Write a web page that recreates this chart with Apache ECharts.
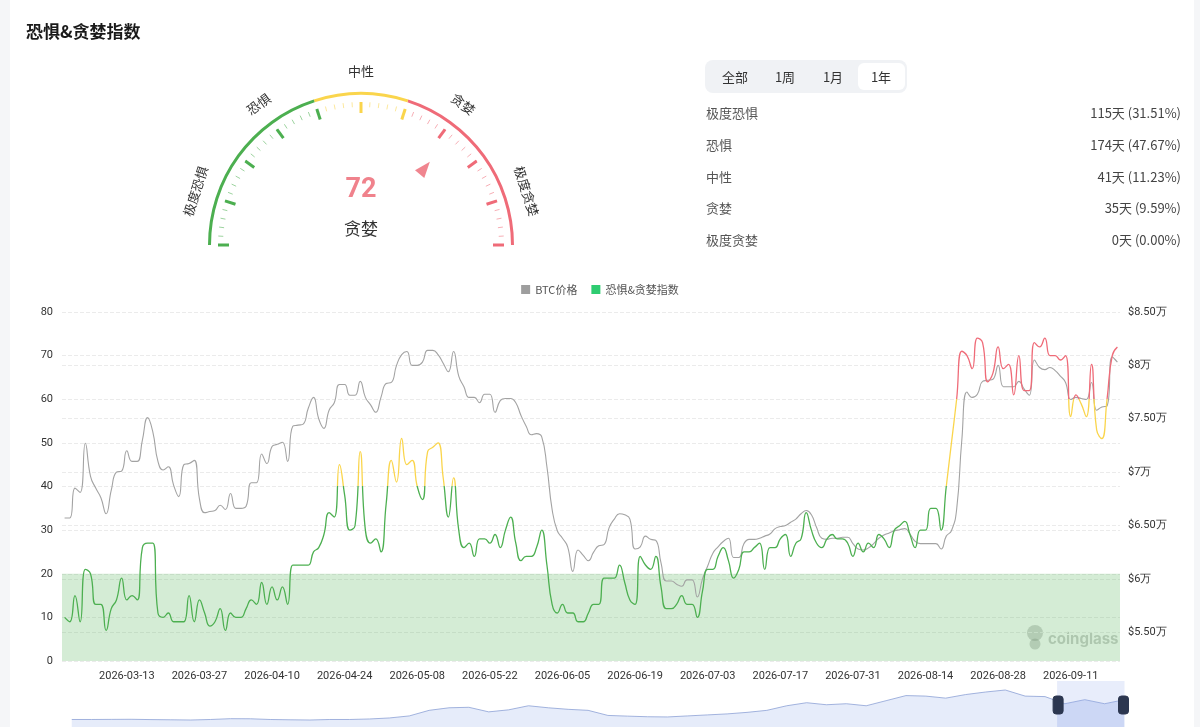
<!DOCTYPE html>
<html><head><meta charset="utf-8">
<script src="https://cdn.jsdelivr.net/npm/echarts@6/dist/echarts.min.js"></script>
<style>
html,body{margin:0;padding:0;width:1200px;height:727px;overflow:hidden;background:#f5f6f8;font-family:"Noto Sans CJK SC","Noto Sans",sans-serif;}
#card{position:absolute;left:10px;top:0;width:1184px;height:727px;background:#fff;}
#chart{position:absolute;left:0;top:0;width:1200px;height:727px;}
#title{position:absolute;left:26px;top:19px;font-size:17px;font-weight:700;color:#1a1a1a;line-height:24px;}
#seg{position:absolute;left:705px;top:60px;width:202px;height:33px;background:#f0f2f5;border-radius:8px;}
#seg span{position:absolute;top:3px;height:27px;line-height:27px;text-align:center;font-size:13px;color:#333;width:47px;}
#seg span.on{background:#fff;border-radius:6px;}
.row{position:absolute;left:706px;width:475px;font-size:13px;color:#555;height:20px;line-height:20px;}
.row .v{position:absolute;right:0;top:0;color:#444;}
</style></head>
<body>
<div id="card"></div>
<div id="chart"></div>
<div id="title">恐惧&amp;贪婪指数</div>
<div id="seg"></div>
<div id="stats"></div>
<script>
// ---------- data ----------
const startDate = [2026, 2, 1]; // 2026-03-01
const fgiValues = [
10,9,15,9,21,20,13,13,7,12,
14,19,14,15,14,26,27,27,11,10,
11,9,9,9,15,9,14,11,8,9,
12,7,11,10,10,12,14,13,18,13,
17,14,17,13,22,22,22,22,25,26,
29,34,33,45,38,30,31,48,30,27,
28,25,36,46,41,51,45,46,40,37,
48,49,50,42,33,42,30,26,27,24,
28,28,27,29,26,30,33,27,23,24,
24,26,30,22,13,11,13,11,11,9,
9,11,13,13,19,19,19,22,18,14,
13,24,22,21,24,17,12,12,13,15,
13,13,10,16,21,21,24,26,23,19,
21,25,25,26,27,21,26,26,28,29,
24,27,28,34,30,27,26,28,29,28,
28,27,24,27,25,27,26,29,28,26,
30,31,32,29,26,30,30,35,35,30,
40,50,60,71,70,67,74,73,64,66,
72,67,68,61,70,62,62,73,72,74,
70,70,69,70,56,61,59,56,68,53,
51,60,70,72
];
const btcPrice = [
65700,65700,68500,68100,72700,69600,68500,67600,66100,68300,
70000,70100,72000,71000,71000,73000,75100,73800,71000,70200,
70500,68800,67700,70700,70800,71100,67500,66200,66300,66400,
66900,66500,68000,66600,66600,66800,69000,69000,71700,70800,
72400,72600,72800,71000,74300,74400,74500,76000,77000,75000,
74100,75800,76500,78200,78200,77200,77200,78500,77000,76300,
75600,77000,78300,78400,80000,81000,81300,80000,80000,80300,
81400,81400,81000,80200,79400,81300,79000,78000,77000,77000,
76500,77300,77300,75600,76700,76900,76900,76500,75300,74300,
73500,73600,73300,70500,66500,64500,63800,63000,60700,62700,
62200,61700,62500,63100,63200,64800,65600,66100,66000,65600,
62800,63000,64000,63700,63600,61500,59800,59800,59500,59300,
59900,59900,58300,60000,61200,62400,63000,63500,63800,62000,
62000,63300,63700,63700,63800,64000,64200,64700,64900,65000,
65300,65600,66100,66400,66000,64800,63800,63700,63800,63800,
63900,63900,63300,62800,62700,62900,63300,63800,64100,64300,
64500,64600,64700,64200,63500,63300,63300,63300,63300,62800,
64000,64500,66500,73000,77500,77000,77300,78500,78600,78700,
80000,78000,78000,78000,78500,77800,77200,80500,79800,79600,
79800,79500,79000,78400,76800,77000,76900,76800,78400,75800,
76100,76200,80800,80300
];
// long-history shadow shown in the zoom slider (relative level)
const historyShadow = [
0.5,0.5,0.6,0.7,0.4,0.2,0.0,0.5,1.3,1.2,
0.5,0.2,0.0,0.5,0.5,1.0,2.0,4.0,9.5,12,
12.5,8,10,14,12,10.5,9.5,4.5,3.8,3.2,
3.0,4.0,5.0,6.0,7.5,9.5,14,17,15,16,
14,19,24,23.5,21.5,25,27.5,29.5,23.5,23,
16,20,16,20
];
const leftTicks = {min: 0, max: 80, interval: 10};
const priceRange = {min: 52300, max: 85000};
const zoneNames = ['极度恐惧','恐惧','中性','贪婪','极度贪婪'];
const statDays = [115,174,41,35,0];
const statPct = ['31.51','47.67','11.23','9.59','0.00'];
const rangeTabs = ['全部','1周','1月','1年'];
const activeTab = '1年';
const seriesNames = ['BTC价格','恐惧&贪婪指数'];

// ---------- html parts ----------
const seg = document.getElementById('seg');
const tabCenters = [30, 80, 128, 176];
rangeTabs.forEach((t, i) => {
  const s = document.createElement('span');
  s.textContent = t;
  s.style.left = (tabCenters[i] - 23.5) + 'px';
  if (t === activeTab) s.className = 'on';
  seg.appendChild(s);
});
const stats = document.getElementById('stats');
zoneNames.forEach((n, i) => {
  const r = document.createElement('div');
  r.className = 'row';
  r.style.top = (103 + i * 31.75) + 'px';
  r.innerHTML = n + '<span class="v">' + statDays[i] + '天 (' + statPct[i] + '%)</span>';
  stats.appendChild(r);
});

// ---------- chart ----------
const dates = [];
for (let i = 0; i < fgiValues.length; i++) {
  const d = new Date(Date.UTC(startDate[0], startDate[1], startDate[2] + i));
  dates.push(d.toISOString().slice(0, 10));
}
const latest = fgiValues[fgiValues.length - 1];
const latestName = zoneNames[Math.min(4, Math.floor(latest / 20))];

const C_GREEN = '#4caf50', C_YELLOW = '#fad54c', C_RED = '#ef6b78';
const gCx = 361, gCy = 245, gR = 153;
const numFont = 'Roboto, "Noto Sans", sans-serif';

const gaugeLabels = [10, 30, 50, 70, 90].map((v, k) => {
  const th = Math.PI * (1 - v / 100);
  const rl = 174;
  return {
    type: 'text', x: gCx + rl * Math.cos(th), y: gCy - rl * Math.sin(th),
    rotation: th - Math.PI / 2, silent: true,
    style: {text: zoneNames[k], fontSize: 13, fill: '#333', align: 'center', verticalAlign: 'middle',
      fontFamily: '"Noto Sans CJK SC", sans-serif'}
  };
});

const chart = echarts.init(document.getElementById('chart'), null, {renderer: 'canvas'});
chart.setOption({
  animation: false,
  textStyle: {fontFamily: numFont},
  legend: {
    data: seriesNames, top: 279, left: 'center', icon: 'rect', itemWidth: 9, itemHeight: 9, itemGap: 14,
    textStyle: {fontSize: 11, color: '#555', fontFamily: '"Noto Sans CJK SC", sans-serif'}
  },
  grid: [
    {left: 62, right: 80, top: 312, bottom: 66},
    {left: 0, top: -200, width: 10, height: 10}
  ],
  xAxis: [
    {type: 'category', gridIndex: 0, data: dates, boundaryGap: true,
      axisLine: {show: false}, axisTick: {show: false},
      axisLabel: {interval: (i) => i >= 12 && (i - 12) % 14 === 0, color: '#333', fontSize: 11, margin: 10}},
    {type: 'category', gridIndex: 1, show: false, boundaryGap: false, data: historyShadow.map((_, i) => i)}
  ],
  yAxis: [
    {type: 'value', gridIndex: 0, min: leftTicks.min, max: leftTicks.max, interval: leftTicks.interval,
      axisLine: {show: false}, axisTick: {show: false},
      axisLabel: {color: '#333', fontSize: 11, margin: 9},
      splitLine: {lineStyle: {type: 'dashed', color: '#ebebeb'}}},
    {type: 'value', gridIndex: 0, position: 'right', min: priceRange.min, max: priceRange.max,
      axisLine: {show: false}, axisTick: {show: false},
      axisLabel: {color: '#333', fontSize: 11, margin: 8, showMinLabel: false,
        formatter: (v) => { const w = v / 10000; return '$' + (Number.isInteger(w) ? w : w.toFixed(2)) + '万'; }},
      splitLine: {lineStyle: {type: 'dashed', color: '#ebebeb'}}},
    {type: 'value', gridIndex: 1, show: false, scale: true}
  ],
  visualMap: {
    type: 'piecewise', show: false, seriesIndex: 2, dimension: 1,
    pieces: [{lte: 40, color: C_GREEN}, {gt: 40, lte: 60, color: C_YELLOW}, {gt: 60, color: C_RED}]
  },
  dataZoom: [{
    type: 'slider', xAxisIndex: 1, start: 93.6, end: 100,
    left: 69, right: 78, top: 681, height: 48,
    showDetail: false, brushSelect: false, moveHandleSize: 0,
    borderColor: 'transparent', backgroundColor: 'transparent',
    fillerColor: 'rgba(150,172,235,0.22)',
    dataBackground: {lineStyle: {color: '#8da1d6', width: 0.8, opacity: 1}, areaStyle: {color: '#e6ecfa', opacity: 1}},
    selectedDataBackground: {lineStyle: {color: '#8da1d6', width: 0.8, opacity: 1}, areaStyle: {color: '#dbe3f8', opacity: 1}},
    handleIcon: 'path://M3,0 L7,0 Q10,0 10,3 L10,15 Q10,18 7,18 L3,18 Q0,18 0,15 L0,3 Q0,0 3,0 Z',
    handleSize: 18,
    handleStyle: {color: '#2c3750', borderColor: '#2c3750'},
    moveHandleStyle: {opacity: 0},
    emphasis: {handleStyle: {color: '#2c3750', borderColor: '#2c3750'}, moveHandleStyle: {opacity: 0}}
  }],
  graphic: [
    ...gaugeLabels,
    {type: 'group', silent: true, children: [
      {type: 'circle', shape: {cx: 1035, cy: 633, r: 8}, style: {fill: 'rgba(120,125,120,0.32)'}},
      {type: 'circle', shape: {cx: 1035, cy: 644, r: 5.5}, style: {fill: 'rgba(120,125,120,0.32)'}},
      {type: 'text', x: 1048, y: 639, style: {text: 'coinglass', fontSize: 15, fontWeight: 'bold',
        fill: 'rgba(120,125,120,0.38)', verticalAlign: 'middle', fontFamily: 'Inter, Roboto, sans-serif'}}
    ]}
  ],
  series: [
    {type: 'gauge', center: [gCx, gCy], radius: gR, startAngle: 180, endAngle: 0, min: 0, max: 100, splitNumber: 10,
      axisLine: {lineStyle: {width: 3, color: [[0.4, C_GREEN], [0.6, C_YELLOW], [1, C_RED]]}},
      splitLine: {distance: 7, length: 11, lineStyle: {width: 3, color: 'auto'}},
      axisTick: {distance: 7, length: 5, splitNumber: 5, lineStyle: {width: 1, color: 'auto', opacity: 0.55}},
      axisLabel: {show: false},
      pointer: {icon: 'triangle', length: 16, width: 12, offsetCenter: [0, -92], itemStyle: {color: '#f0858f'}},
      anchor: {show: false},
      title: {offsetCenter: [0, -16], fontSize: 17, color: '#333', fontFamily: '"Noto Sans CJK SC", sans-serif'},
      detail: {offsetCenter: [0, -55], fontSize: 27, fontWeight: 'bold', color: '#f0828c', formatter: '{value}', fontFamily: numFont},
      data: [{value: latest, name: latestName}]
    },
    {name: seriesNames[0], type: 'line', xAxisIndex: 0, yAxisIndex: 1, data: btcPrice, smooth: true,
      showSymbol: false, lineStyle: {width: 1.1, color: '#a3a3a3'}, itemStyle: {color: '#9e9e9e'}, z: 2},
    {name: seriesNames[1], type: 'line', xAxisIndex: 0, yAxisIndex: 0, data: fgiValues, smooth: true,
      showSymbol: false, lineStyle: {width: 1.3}, itemStyle: {color: '#2ecc71'}, z: 3,
      markArea: {silent: true, itemStyle: {color: 'rgba(76,175,80,0.24)'}, data: [[{yAxis: 0}, {yAxis: 20}]]}},
    {type: 'line', xAxisIndex: 1, yAxisIndex: 2, data: historyShadow, showSymbol: false, silent: true,
      lineStyle: {opacity: 0}, tooltip: {show: false}}
  ]
});
</script>
</body></html>
